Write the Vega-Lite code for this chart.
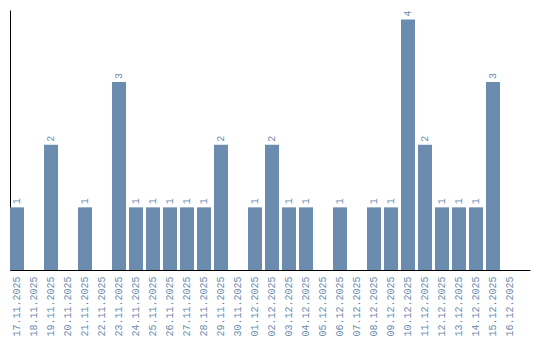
{
  "$schema": "https://vega.github.io/schema/vega-lite/v6.json",
  "autosize": "none",
  "width": 520,
  "height": 260,
  "padding": {"left": 10, "top": 10, "right": 10, "bottom": 70},
  "background": "white",
  "config": {"view": {"stroke": null}},
  "data": {"values": [
    {"date": "17.11.2025", "count": 1},
    {"date": "18.11.2025", "count": 0},
    {"date": "19.11.2025", "count": 2},
    {"date": "20.11.2025", "count": 0},
    {"date": "21.11.2025", "count": 1},
    {"date": "22.11.2025", "count": 0},
    {"date": "23.11.2025", "count": 3},
    {"date": "24.11.2025", "count": 1},
    {"date": "25.11.2025", "count": 1},
    {"date": "26.11.2025", "count": 1},
    {"date": "27.11.2025", "count": 1},
    {"date": "28.11.2025", "count": 1},
    {"date": "29.11.2025", "count": 2},
    {"date": "30.11.2025", "count": 0},
    {"date": "01.12.2025", "count": 1},
    {"date": "02.12.2025", "count": 2},
    {"date": "03.12.2025", "count": 1},
    {"date": "04.12.2025", "count": 1},
    {"date": "05.12.2025", "count": 0},
    {"date": "06.12.2025", "count": 1},
    {"date": "07.12.2025", "count": 0},
    {"date": "08.12.2025", "count": 1},
    {"date": "09.12.2025", "count": 1},
    {"date": "10.12.2025", "count": 4},
    {"date": "11.12.2025", "count": 2},
    {"date": "12.12.2025", "count": 1},
    {"date": "13.12.2025", "count": 1},
    {"date": "14.12.2025", "count": 1},
    {"date": "15.12.2025", "count": 3},
    {"date": "16.12.2025", "count": 0}
  ]},
  "encoding": {
    "x": {
      "field": "date", "type": "ordinal", "sort": null,
      "scale": {"paddingInner": 0.176, "paddingOuter": 0.382, "align": 0},
      "axis": {"title": null, "labelAngle": -90, "ticks": false, "domainColor": "black", "domainWidth": 1, "labelFont": "Liberation Mono", "labelFontSize": 10, "labelColor": "#6b8cae", "labelPadding": 6}
    },
    "y": {
      "field": "count", "type": "quantitative",
      "scale": {"domain": [0, 4.15], "nice": false},
      "axis": {"title": null, "labels": false, "ticks": false, "grid": false, "domainColor": "black", "domainWidth": 1}
    }
  },
  "layer": [
    {"mark": {"type": "bar", "color": "#6b8cae"}},
    {
      "transform": [{"filter": "datum.count > 0"}],
      "mark": {"type": "text", "angle": -90, "align": "left", "baseline": "middle", "dx": 3, "font": "Liberation Mono", "fontSize": 10, "color": "#6b8cae"},
      "encoding": {"text": {"field": "count", "type": "quantitative"}}
    }
  ]
}
